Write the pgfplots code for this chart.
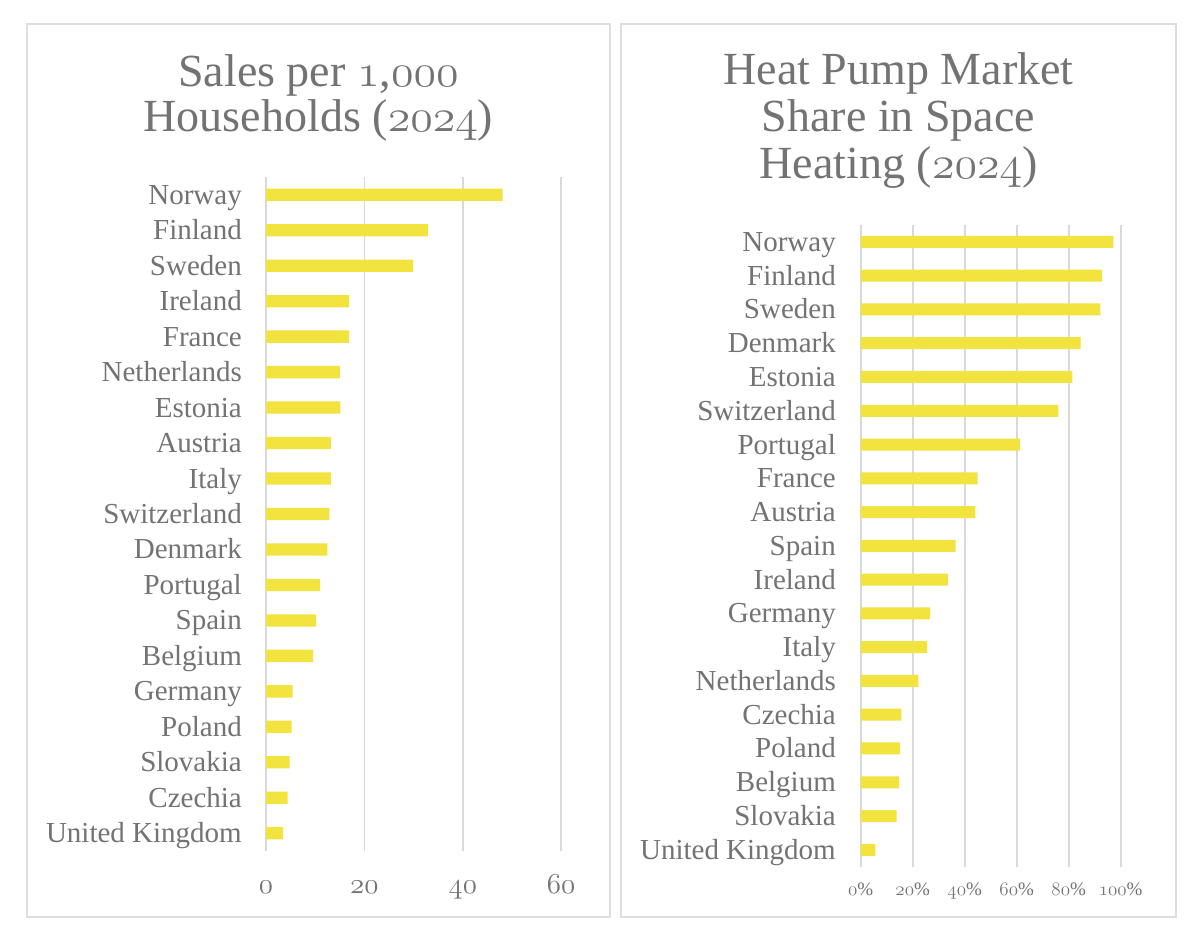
\RequirePackage{fix-cm}
\documentclass[border=0pt]{standalone}
\usepackage{fontspec}
\setmainfont{Liberation Serif}
\usepackage{pgfplots}
\pgfplotsset{compat=1.18}
\definecolor{txt}{HTML}{737373}
\definecolor{gridc}{HTML}{D9D9D9}
\definecolor{boxc}{HTML}{DEDEDE}
\definecolor{barc}{HTML}{F3E33E}
\newcommand\osn[1]{{\usefont{OML}{cmm}{m}{it}#1}}
\pgfplotsset{hb/.style={
  xbar, scale only axis, enlargelimits=false, y dir=reverse,
  ymin=-0.5, ymax=18.5, ytick={0,...,18},
  axis line style={draw=none}, major tick length=0pt,
  xmajorgrids=true, ymajorgrids=false,
  grid style={draw=gridc, line width=1.6pt},
  bar width=12.3pt,
  tick label style={text=txt},
  yticklabel style={font=\fontsize{29}{31}\selectfont, anchor=base east, inner sep=0pt, xshift=-24pt, yshift=-9.5pt},
}}
\begin{document}
\begin{tikzpicture}[x=1pt,y=1pt]
\fill[white] (0,0) rectangle (1200,941);
\draw[boxc, line width=2pt] (27,917) rectangle (610,24);
\draw[boxc, line width=2pt] (621,917) rectangle (1176,24);
\begin{scope}[font=\fontsize{46}{46}\selectfont, text=txt]
\node[anchor=base] at (318.5,854) {Sales per \osn{1},\osn{000}};
\node[anchor=base] at (318.5,809) {Households (\osn{2024})};
\node[anchor=base] at (898.5,856) {Heat Pump Market};
\node[anchor=base] at (898.5,809) {Share in Space};
\node[anchor=base] at (898.5,762) {Heating (\osn{2024})};
\end{scope}
\begin{axis}[hb, at={(266pt,90pt)}, anchor=south west,
  width=295.2pt, height=674pt, xmin=0, xmax=60,
  xtick={0,20,40,60}, xticklabels={\osn{0},\osn{20},\osn{40},\osn{60}},
  xticklabel style={font=\fontsize{29}{31}\selectfont, anchor=base, inner sep=0pt, yshift=-42pt},
  yticklabels={Norway,Finland,Sweden,Ireland,France,Netherlands,Estonia,Austria,Italy,Switzerland,Denmark,Portugal,Spain,Belgium,Germany,Poland,Slovakia,Czechia,United Kingdom}]
\addplot[fill=barc, draw=none] coordinates {
(48.1,0) (32.9,1) (29.9,2) (16.9,3) (16.9,4) (15.0,5) (15.1,6) (13.2,7) (13.2,8) (12.9,9)
(12.5,10) (11.0,11) (10.2,12) (9.6,13) (5.4,14) (5.2,15) (4.8,16) (4.4,17) (3.5,18)};
\end{axis}
\begin{axis}[hb, at={(860.7pt,74.3pt)}, anchor=south west,
  width=260pt, height=641.7pt, xmin=0, xmax=100, bar width=12pt,
  xtick={0,20,40,60,80,100}, xticklabels={\osn{0}\%,\osn{20}\%,\osn{40}\%,\osn{60}\%,\osn{80}\%,\osn{100}\%},
  xticklabel style={font=\fontsize{19}{21}\selectfont, anchor=base, inner sep=0pt, yshift=-28.3pt},
  yticklabel style={xshift=-0.7pt},
  yticklabels={Norway,Finland,Sweden,Denmark,Estonia,Switzerland,Portugal,France,Austria,Spain,Ireland,Germany,Italy,Netherlands,Czechia,Poland,Belgium,Slovakia,United Kingdom}]
\addplot[fill=barc, draw=none] coordinates {
(97.2,0) (92.9,1) (92.2,2) (84.6,3) (81.4,4) (76.0,5) (61.3,6) (45.0,7) (44.1,8) (36.5,9)
(33.5,10) (26.7,11) (25.5,12) (22.2,13) (15.6,14) (15.2,15) (14.8,16) (13.8,17) (5.6,18)};
\end{axis}
\end{tikzpicture}
\end{document}
